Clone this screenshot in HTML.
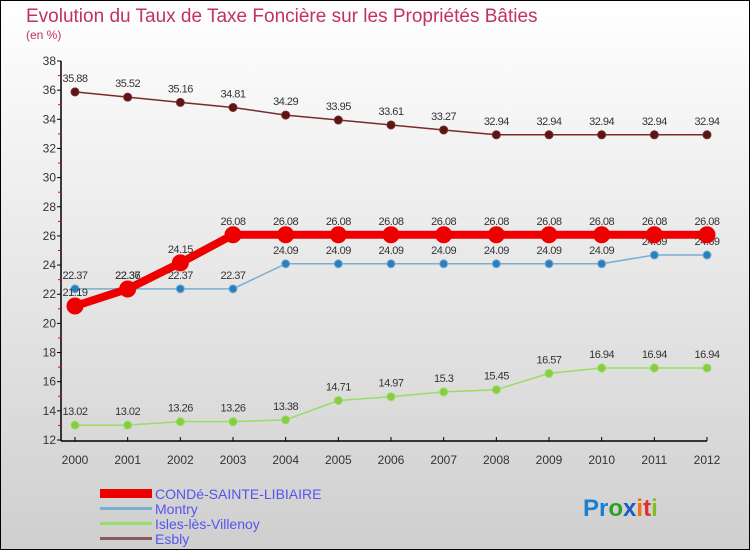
<!DOCTYPE html>
<html><head><meta charset="utf-8"><style>
body{margin:0}
svg{display:block;font-family:"Liberation Sans",sans-serif}
</style></head><body>
<svg id="c" width="750" height="550">
<defs><linearGradient id="bg" x1="0" y1="0" x2="0" y2="1"><stop offset="0" stop-color="#ffffff"/><stop offset="1" stop-color="#cfcfcf"/></linearGradient></defs>
<rect x="0.5" y="0.5" width="749" height="549" fill="url(#bg)" stroke="#000"/>
<text x="26" y="22" font-size="19" fill="#c0306a">Evolution du Taux de Taxe Foncière sur les Propriétés Bâties</text>
<text x="26" y="39" font-size="12" fill="#c0306a">(en %)</text>
<g id="axes"></g><g id="series"></g>
<g>
<rect x="100" y="489" width="52" height="9" fill="#e00"/>
<text x="155" y="499" font-size="14" fill="#5555ee">CONDé-SAINTE-LIBIAIRE</text>
<rect x="100" y="507" width="52" height="3" fill="#7aaed0"/>
<text x="155" y="514" font-size="14" fill="#5555ee">Montry</text>
<rect x="100" y="522" width="52" height="3" fill="#99dd66"/>
<text x="155" y="529" font-size="14" fill="#5555ee">Isles-lès-Villenoy</text>
<rect x="100" y="537" width="52" height="3" fill="#8b5a5a"/>
<text x="155" y="544" font-size="14" fill="#5555ee">Esbly</text>
</g>
<text x="583" y="516" font-size="24" font-weight="bold"><tspan fill="#1a7fd0">Pr</tspan><tspan fill="#2aa02a">o</tspan><tspan fill="#1a5fc0">x</tspan><tspan fill="#f07010">i</tspan><tspan fill="#e03030">t</tspan><tspan fill="#80c020">i</tspan></text>
</svg>
<script>
const years=[2000,2001,2002,2003,2004,2005,2006,2007,2008,2009,2010,2011,2012];
const conde=[21.19,22.36,24.15,26.08,26.08,26.08,26.08,26.08,26.08,26.08,26.08,26.08,26.08];
const montry=[22.37,22.37,22.37,22.37,24.09,24.09,24.09,24.09,24.09,24.09,24.09,24.69,24.69];
const isles=[13.02,13.02,13.26,13.26,13.38,14.71,14.97,15.3,15.45,16.57,16.94,16.94,16.94];
const esbly=[35.88,35.52,35.16,34.81,34.29,33.95,33.61,33.27,32.94,32.94,32.94,32.94,32.94];
const yTicks=[12,14,16,18,20,22,24,26,28,30,32,34,36,38];
const NS="http://www.w3.org/2000/svg";
const X=i=>75+i*(707-75)/(years.length-1);
const Y=v=>440-(v-12)*(440-61)/26;
function mk(tag,attrs,parent){const e=document.createElementNS(NS,tag);for(const k in attrs)e.setAttribute(k,attrs[k]);parent.appendChild(e);return e;}
const ax=document.getElementById('axes'),sg=document.getElementById('series');
let a=mk('line',{x1:61,y1:61,x2:61,y2:441,stroke:'#000','stroke-width':1.5},ax);


a=mk('line',{x1:61,y1:441,x2:707,y2:441,stroke:'#000','stroke-width':1.5},ax);


yTicks.forEach(v=>{
 mk('line',{x1:57,y1:Y(v),x2:61,y2:Y(v),stroke:'#000'},ax);
 if(v<38){mk('line',{x1:58,y1:Y(v+1),x2:61,y2:Y(v+1),stroke:'#e00'},ax);}
 const t=mk('text',{x:56,y:Y(v)+4,'font-size':12,'text-anchor':'end',fill:'#333'},ax);t.textContent=v;
 
 
});
years.forEach((yr,i)=>{
 mk('line',{x1:X(i),y1:437,x2:X(i),y2:441,stroke:'#000'},ax);
 const t=mk('text',{x:X(i),y:464,'font-size':12,'text-anchor':'middle',fill:'#333'},ax);t.textContent=yr;
 
 
});
function series(vals,name,color,w,r,dot){
 const g=mk('g',{},sg);
 
 
 const p=mk('polyline',{points:vals.map((v,i)=>X(i)+','+Y(v)).join(' '),fill:'none',stroke:color,'stroke-width':w,'stroke-linejoin':'round'},g);
 
 
 vals.forEach((v,i)=>{
  const c=mk('circle',{cx:X(i),cy:Y(v),r:r,fill:dot,stroke:color,'stroke-width':1},g);
  
  
  const t=mk('text',{x:X(i),y:Y(v)-10,'font-size':11,'text-anchor':'middle',fill:'#333','letter-spacing':'-0.5'},g);
  t.textContent=v;
  
  
 });
}
series(esbly,'esbly','#7a2a2a',1.5,4,'#5a1515');
series(isles,'isles','#99dd66',1.5,4,'#88cc44');
series(montry,'montry','#7aaed0',1.5,4,'#2a7fc0');
series(conde,'conde','#ee0000',8,8,'#ee0000');
</script>
</body></html>
